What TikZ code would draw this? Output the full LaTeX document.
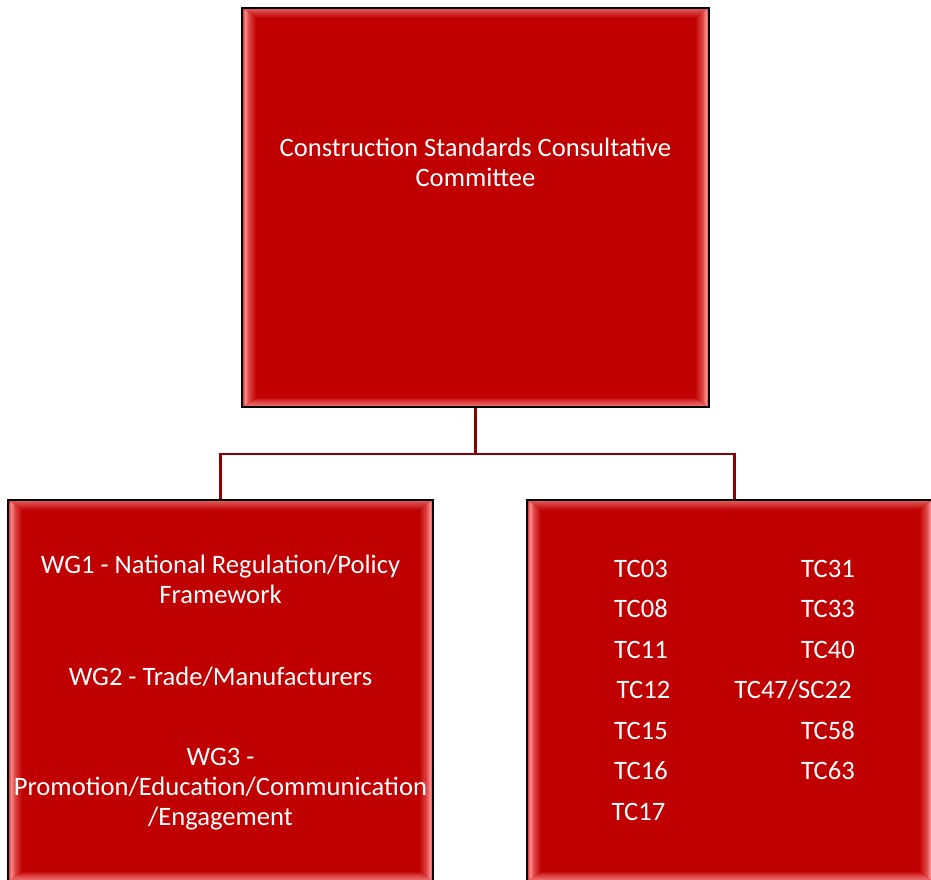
\documentclass[tikz,border=0pt]{standalone}
\usepackage{fontspec}
\setmainfont{Carlito}
\usetikzlibrary{calc}
\definecolor{boxred}{HTML}{C00000}
\definecolor{bevA}{HTML}{C82020}
\definecolor{bevHi}{HTML}{FF8C8C}
\definecolor{bevMid}{HTML}{E04848}
\definecolor{bevTop}{HTML}{E06060}
\definecolor{bevBot}{HTML}{F07878}
\definecolor{linkred}{HTML}{8B0000}
\pgfdeclarehorizontalshading{bevleft}{100bp}{color(0bp)=(bevA); color(25bp)=(bevA); color(36bp)=(bevHi); color(48bp)=(bevMid); color(75bp)=(boxred); color(100bp)=(boxred)}
\pgfdeclarehorizontalshading{bevright}{100bp}{color(0bp)=(boxred); color(25bp)=(boxred); color(52bp)=(bevMid); color(64bp)=(bevHi); color(75bp)=(bevA); color(100bp)=(bevA)}
\pgfdeclareverticalshading{bevtop}{100bp}{color(0bp)=(boxred); color(25bp)=(boxred); color(75bp)=(bevTop); color(100bp)=(bevTop)}
\pgfdeclareverticalshading{bevbot}{100bp}{color(0bp)=(bevBot); color(25bp)=(bevBot); color(50bp)=(bevMid); color(75bp)=(boxred); color(100bp)=(boxred)}
\tikzset{
  bevelbox/.style={draw=black, line width=2pt, fill=boxred, inner sep=0pt,
    path picture={
      \path (path picture bounding box.north west) coordinate (bnw)
            (path picture bounding box.north east) coordinate (bne)
            (path picture bounding box.south west) coordinate (bsw)
            (path picture bounding box.south east) coordinate (bse);
      \shade[shading=bevtop] (bnw) -- (bne) -- ([xshift=-14pt,yshift=-10pt]bne) -- ([xshift=14pt,yshift=-10pt]bnw) -- cycle;
      \shade[shading=bevbot] (bsw) -- (bse) -- ([xshift=-14pt,yshift=10pt]bse) -- ([xshift=14pt,yshift=10pt]bsw) -- cycle;
      \shade[shading=bevleft] (bnw) -- (bsw) -- ([xshift=14pt,yshift=10pt]bsw) -- ([xshift=14pt,yshift=-10pt]bnw) -- cycle;
      \shade[shading=bevright] (bne) -- (bse) -- ([xshift=-14pt,yshift=10pt]bse) -- ([xshift=-14pt,yshift=-10pt]bne) -- cycle;
    }},
  label/.style={text=white, font=\fontsize{26.6}{30}\selectfont, inner sep=0pt, align=center},
  link/.style={draw=linkred, line width=3pt}
}
\begin{document}
\begin{tikzpicture}[x=1pt,y=-1pt]
\useasboundingbox (0,0) rectangle (931,879);
\clip (0,0) rectangle (931,879);
% boxes
\node[bevelbox, minimum width=467pt, minimum height=399pt] (top) at (475.5,207.5) {};
\node[bevelbox, minimum width=425pt, minimum height=381pt] (lft) at (220.5,690.5) {};
\node[bevelbox, minimum width=406pt, minimum height=381pt] (rgt) at (730,690.5) {};
% connectors
\coordinate (jn) at ($(top.south)+(0,46)$);
\coordinate (rin) at ([xshift=4.6pt]rgt.north);
\draw[link] (top.south) -- (jn);
\draw[link, line width=2.5pt] (jn) -| (lft.north);
\draw[link, line width=2.5pt] (jn) -| (rin);
% texts (base = baseline of last line)
\node[label, anchor=base] (toptxt) at (475.5,186) {Construction Standards Consultative\\Committee};
\node[label, anchor=base] (wg1) at (220.5,603) {WG1 - National Regulation/Policy\\Framework};
\node[label, anchor=base] (wg2) at (220.5,685) {WG2 - Trade/Manufacturers};
\node[label, anchor=base] (wg3) at (220.5,825) {WG3 -\\Promotion/Education/Communication\\/Engagement};
% TC columns
\node[label, anchor=base] (tc03) at (641,577) {TC03};
\node[label, anchor=base] (tc08) at (641,617) {TC08};
\node[label, anchor=base] (tc11) at (641,658) {TC11};
\node[label, anchor=base] (tc12) at (643.5,698) {TC12};
\node[label, anchor=base] (tc15) at (641,739) {TC15};
\node[label, anchor=base] (tc16) at (641,779) {TC16};
\node[label, anchor=base] (tc17) at (638.5,820) {TC17};
\node[label, anchor=base] (tc31) at (828,577) {TC31};
\node[label, anchor=base] (tc33) at (828,617) {TC33};
\node[label, anchor=base] (tc40) at (828,658) {TC40};
\node[label, anchor=base] (tc47) at (793,698) {TC47/SC22};
\node[label, anchor=base] (tc58) at (828,739) {TC58};
\node[label, anchor=base] (tc63) at (828,779) {TC63};
\end{tikzpicture}
\end{document}
